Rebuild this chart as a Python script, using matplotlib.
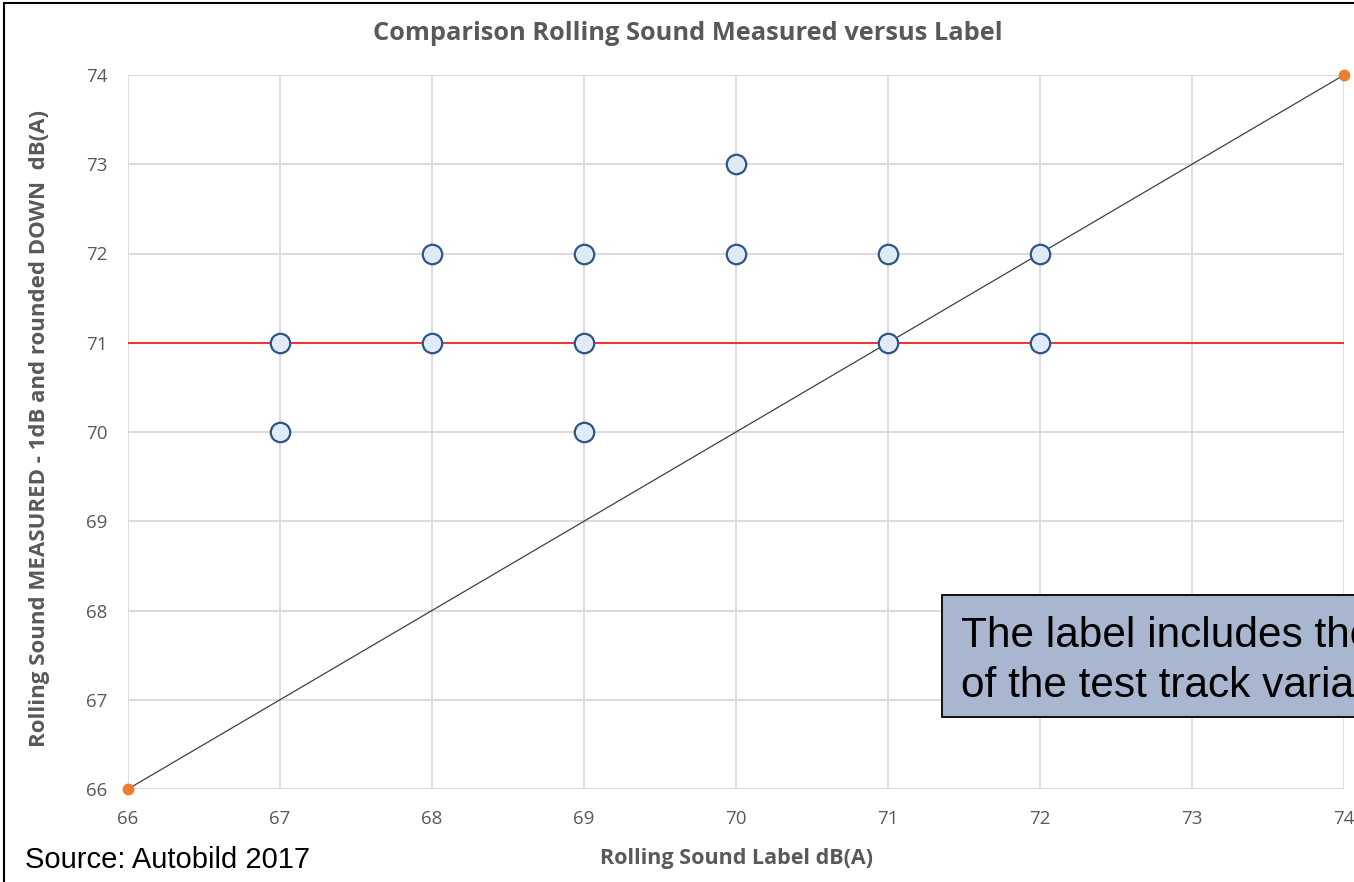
import matplotlib.pyplot as plt
from matplotlib.patches import Rectangle

# data
label_db = [67, 67, 68, 68, 69, 69, 69, 70, 70, 71, 71, 72, 72]
measured_db = [71, 70, 72, 71, 72, 71, 70, 73, 72, 72, 71, 72, 71]
diag_x = [66, 74]
diag_y = [66, 74]
ref_level = 71
ticks = list(range(66, 75))

W, H = 1354, 882
fig = plt.figure(figsize=(W / 100, H / 100), dpi=100)
ax = fig.add_axes([128 / W, 1 - 789 / H, (1344 - 128) / W, (789 - 75) / H])

grey = '#595959'
ax.set_xlim(66, 74)
ax.set_ylim(66, 74)
ax.set_xticks(ticks)
ax.set_yticks(ticks)
ax.grid(True, color='#d9d9d9', linewidth=1.3)
ax.set_axisbelow(True)
for s in ax.spines.values():
    s.set_visible(False)
ax.tick_params(length=0, labelsize=13.5, labelcolor=grey, pad=15)
for lab in ax.get_xticklabels() + ax.get_yticklabels():
    lab.set_family('Open Sans')

ax.axhline(ref_level, color='#ff0000', linewidth=1.1, zorder=2)
ax.plot(diag_x, diag_y, color='#404040', linewidth=0.9, zorder=2,
        marker='o', markersize=7.5, markerfacecolor='#ed7d31',
        markeredgecolor='#ed7d31', clip_on=False)
ax.plot(label_db, measured_db, linestyle='none', marker='o', markersize=14,
        markerfacecolor='#deebf7', markeredgecolor='#2e5583',
        markeredgewidth=1.6, zorder=3)

ax.set_title('Comparison Rolling Sound Measured versus Label', fontsize=18.3,
             fontweight='bold', color=grey, family='Open Sans', pad=25, x=0.46)
ax.set_xlabel('Rolling Sound Label dB(A)', fontsize=15.5, fontweight='bold',
              color=grey, family='Open Sans')
ax.set_ylabel('Rolling Sound MEASURED - 1dB and rounded DOWN  dB(A)',
              fontsize=16, fontweight='bold', color=grey, family='Open Sans')
ax.xaxis.set_label_coords(0.5, -0.083)
ax.yaxis.set_label_coords(-0.064, 0.505)

# outer frame
fig.patches.append(Rectangle((4 / W, -0.1), 1.2, 1.1 - 3 / H, transform=fig.transFigure,
                             fill=False, edgecolor='black', linewidth=1.5))

# note box (runs off the right edge as in the original)
fig.patches.append(Rectangle((942 / W, 1 - 717 / H), 0.5, 122 / H,
                             transform=fig.transFigure, facecolor='#a8b7cf',
                             edgecolor='black', linewidth=1.3, zorder=5))
fig.text(961 / W, 1 - 647 / H, 'The label includes the influence',
         fontsize=30.5, family='Liberation Sans', va='baseline', zorder=6)
fig.text(961 / W, 1 - 697 / H, 'of the test track variation',
         fontsize=30.5, family='Liberation Sans', va='baseline', zorder=6)

fig.text(25 / W, 1 - 868 / H, 'Source: Autobild 2017', fontsize=21,
         family='Liberation Sans', va='baseline')

fig.savefig('out.png', dpi=100)
